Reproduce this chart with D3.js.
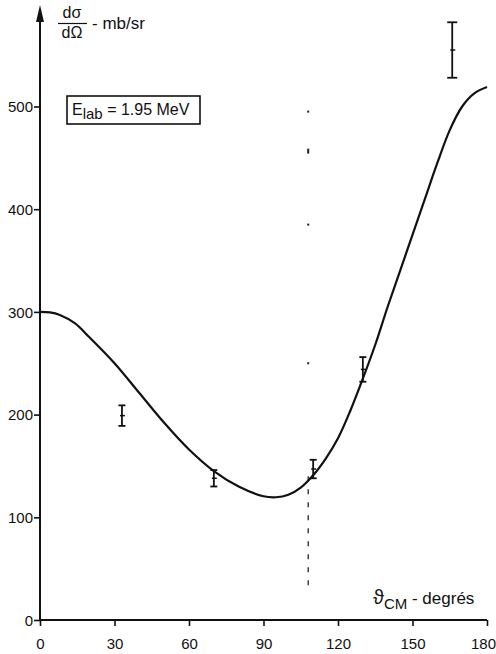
<!DOCTYPE html>
<html>
<head>
<meta charset="utf-8">
<script src="https://cdn.jsdelivr.net/npm/d3@7"></script>
<style>
  body { margin: 0; background: #fff; }
  svg text { font-family: "Liberation Sans", Arial, sans-serif; fill: #111; }
</style>
</head>
<body>
<div id="chart"></div>
<script>
// ---- données ----
const xTicks = [0, 30, 60, 90, 120, 150, 180];
const yTicks = [0, 100, 200, 300, 400, 500];

// courbe théorique (angle CM, section efficace)
const curveAngles = [0, 4, 8, 14, 20, 30, 40, 50, 60, 70, 80, 90, 95, 100, 105, 110, 115, 120, 125, 130, 135, 140, 145, 150, 155, 160, 165, 170, 175, 180];
const curveValues = [300, 299.5, 297, 289, 275, 250, 221, 192, 166, 145, 130, 120.5, 119.5, 122, 129, 141, 157, 177, 204, 235, 268, 305, 340, 375, 410, 445, 477, 500, 513, 519];

// points expérimentaux avec barres d'erreur
const pointAngles = [33, 70, 110, 130, 166];
const pointValues = [199, 138, 147, 244, 555];
const pointErrors = [10, 8, 9, 12, 27];

// trait vertical en pointillé (angle 108)
const markAngle = 108;
const dashFrom = 140, dashTo = 30;
const speckValues = [495, 458, 385, 250];

const W = 496, H = 654;
const svg = d3.select('#chart').append('svg')
    .attr('width', W)
    .attr('height', H);

const x = d3.scaleLinear().domain([0, 180]).range([40, 487]);
const y = d3.scaleLinear().domain([0, 500]).range([620, 106.5]);

// axes
const xAxis = svg.append('g').attr('transform', `translate(0,${y(0)})`)
    .call(d3.axisBottom(x).tickValues(xTicks).tickSize(6).tickSizeOuter(0).tickPadding(10));
const yAxis = svg.append('g').attr('transform', `translate(${x(0)},0)`)
    .call(d3.axisLeft(y).tickValues(yTicks).tickSize(6).tickSizeOuter(0).tickPadding(1));

[xAxis, yAxis].forEach(g => {
    g.select('.domain').remove();
    g.selectAll('line').attr('stroke', '#111').attr('stroke-width', 1.6);
    g.selectAll('text').style('font-size', '15px').attr('fill', '#111');
});
xAxis.selectAll('text').attr('dy', '0.85em')
    .attr('dx', d => d === 180 ? -4 : 0);
yAxis.selectAll('text').attr('dy', '0.35em');

svg.append('line')
    .attr('x1', x(0)).attr('x2', x(180))
    .attr('y1', y(0)).attr('y2', y(0))
    .attr('stroke', '#111').attr('stroke-width', 2);
svg.append('line')
    .attr('x1', x(0)).attr('x2', x(0))
    .attr('y1', y(0)).attr('y2', 18)
    .attr('stroke', '#111').attr('stroke-width', 2);
// flèche
svg.append('path')
    .attr('d', `M${x(0) - 4},22 L${x(0)},5 L${x(0) + 4},22 Z`)
    .attr('fill', '#111');

// trait vertical
svg.append('line')
    .attr('x1', x(markAngle)).attr('x2', x(markAngle))
    .attr('y1', y(dashFrom)).attr('y2', y(dashTo))
    .attr('stroke', '#111').attr('stroke-width', 1.2)
    .attr('stroke-dasharray', '5,8');
svg.selectAll('.speck').data(speckValues).enter().append('rect')
    .attr('class', 'speck')
    .attr('x', x(markAngle) - 1)
    .attr('y', d => y(d) - 1)
    .attr('width', 2).attr('height', (d, i) => i === 1 ? 5 : 2)
    .attr('fill', '#222');

// courbe
const line = d3.line()
    .x(d => x(d[0]))
    .y(d => y(d[1]))
    .curve(d3.curveCatmullRom.alpha(0.5));
svg.append('path')
    .datum(curveAngles.map((a, i) => [a, curveValues[i]]))
    .attr('d', line)
    .attr('fill', 'none')
    .attr('stroke', '#111')
    .attr('stroke-width', 2.2);

// barres d'erreur
const pts = pointAngles.map((a, i) => ({ a: a, v: pointValues[i], e: pointErrors[i] }));
const eb = svg.selectAll('.eb').data(pts).enter().append('g').attr('class', 'eb');
eb.append('line')
    .attr('x1', d => x(d.a)).attr('x2', d => x(d.a))
    .attr('y1', d => y(d.v + d.e)).attr('y2', d => y(d.v - d.e))
    .attr('stroke', '#111').attr('stroke-width', 1.8);
eb.each(function(d) {
    const g = d3.select(this);
    const half = d.e > 20 ? 5 : 3.5;
    [d.v + d.e, d.v - d.e].forEach(v => {
        g.append('line')
            .attr('x1', x(d.a) - half).attr('x2', x(d.a) + half)
            .attr('y1', y(v)).attr('y2', y(v))
            .attr('stroke', '#111').attr('stroke-width', 1.8);
    });
    g.append('line')
        .attr('x1', x(d.a) - 2).attr('x2', x(d.a) + 3)
        .attr('y1', y(d.v)).attr('y2', y(d.v))
        .attr('stroke', '#111').attr('stroke-width', 1.5);
});

// titre axe y : dσ/dΩ - mb/sr
svg.append('text').attr('x', 72).attr('y', 18).attr('text-anchor', 'middle')
    .style('font-size', '16px').text('dσ');
svg.append('line').attr('x1', 58).attr('x2', 87).attr('y1', 23.5).attr('y2', 23.5)
    .attr('stroke', '#111').attr('stroke-width', 1.2);
svg.append('text').attr('x', 72).attr('y', 38).attr('text-anchor', 'middle')
    .style('font-size', '16px').text('dΩ');
svg.append('text').attr('x', 92).attr('y', 29)
    .style('font-size', '17px').text('- mb/sr');

// titre axe x
const xl = svg.append('text').attr('x', 373).attr('y', 604).style('font-size', '17px');
xl.append('tspan').style('font-size', '20px').text('ϑ');
xl.append('tspan').attr('dy', 5).style('font-size', '15px').text('CM');
xl.append('tspan').attr('dy', -5).text(' - degrés');

// encadré énergie
svg.append('rect')
    .attr('x', 67).attr('y', 96).attr('width', 133).attr('height', 28)
    .attr('fill', 'none').attr('stroke', '#111').attr('stroke-width', 1.6);
const lt = svg.append('text').attr('x', 72).attr('y', 115).style('font-size', '16px');
lt.append('tspan').text('E');
lt.append('tspan').attr('dy', 4).style('font-size', '15px').text('lab');
lt.append('tspan').attr('dy', -4).text(' = 1.95 MeV');
</script>
</body>
</html>
